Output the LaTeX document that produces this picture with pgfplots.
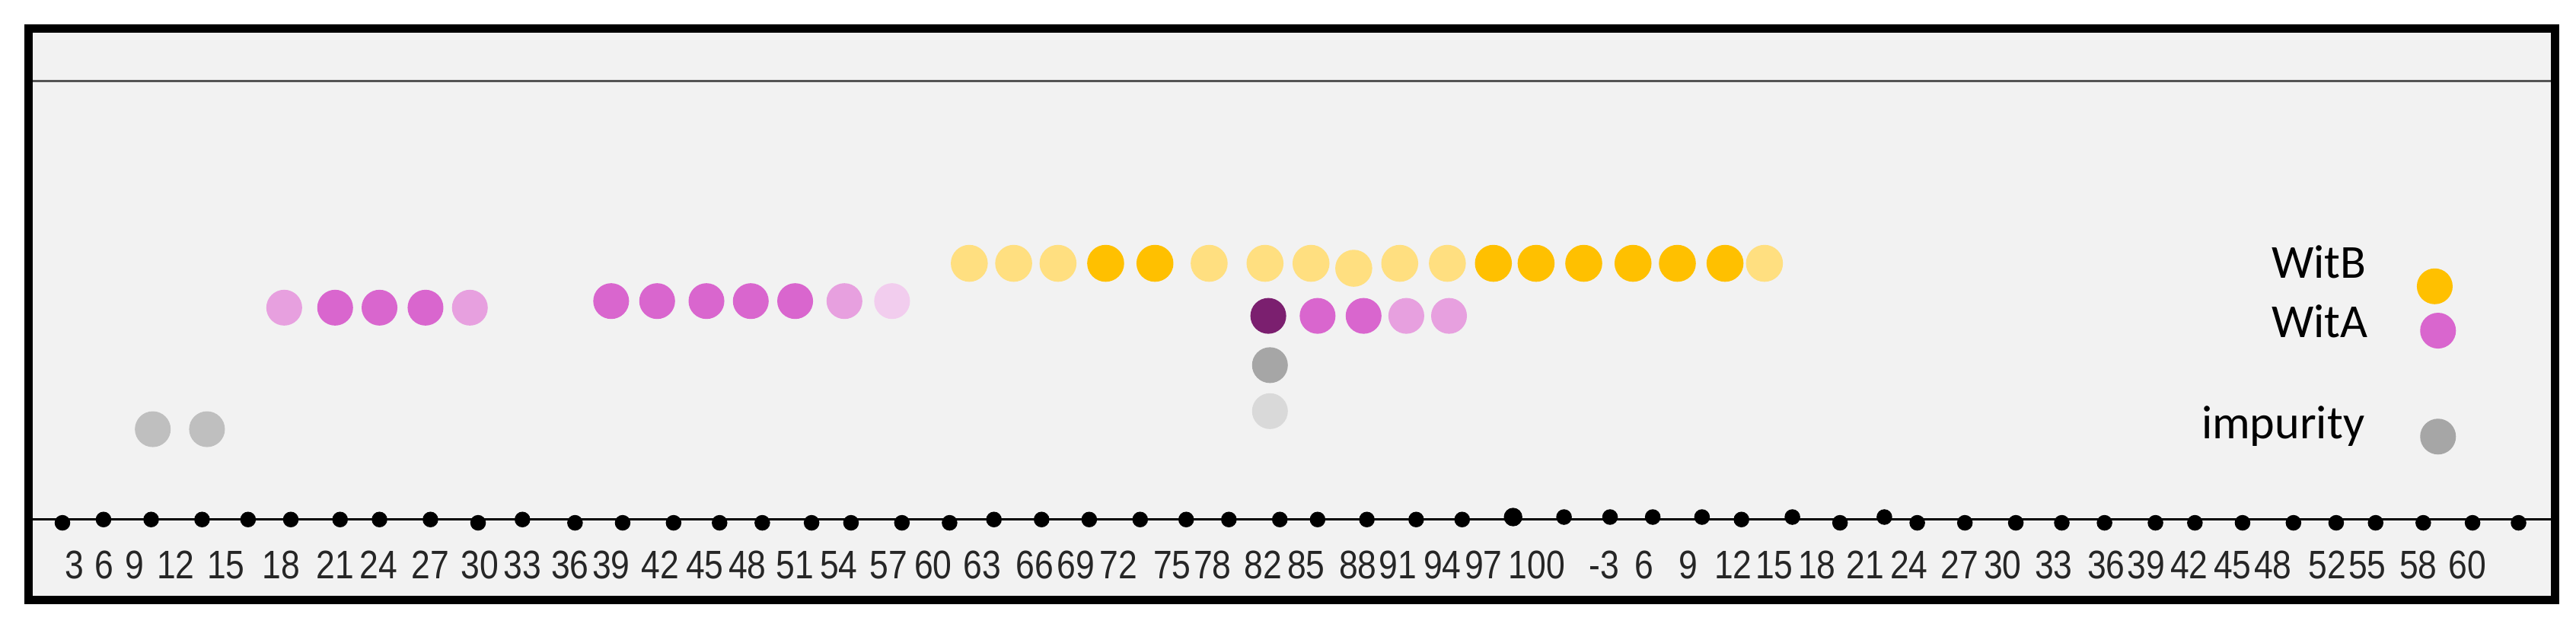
\documentclass[border=0pt]{standalone}
\usepackage{fontspec}
\setmainfont{Carlito}
\newfontfamily\tickfont[FakeStretch=0.85]{Liberation Sans}
\usepackage{pgfplots}
\pgfplotsset{compat=1.18}

\definecolor{panel}{HTML}{F2F2F2}
\definecolor{rule}{HTML}{555555}
\definecolor{labtxt}{HTML}{262626}
\definecolor{witbdark}{HTML}{FFC000}
\definecolor{witblight}{HTML}{FFDF80}
\definecolor{witamid}{HTML}{D966CE}
\definecolor{witalight}{HTML}{E7A0DF}
\definecolor{witapale}{HTML}{F2CDEE}
\definecolor{witadeep}{HTML}{7B1F6F}
\definecolor{impgray}{HTML}{A6A6A6}
\definecolor{implight}{HTML}{D9D9D9}
\definecolor{impmid}{HTML}{BFBFBF}

\begin{document}
\begin{tikzpicture}
\begin{axis}[
  scale only axis, width=15.68cm, height=3.81cm,
  xmin=0, xmax=1568, ymin=0, ymax=381,
  axis on top,
  axis line style={draw=none}, major tick length=0pt,
  ytick=\empty,
  xtick={45.5,63.5,82,107,137.5,171,204,230.5,262,292,318,347,372,402,429,455,484,510.5,541,568,598,630,655,681,713.5,738,769,795,826.5,851,878,903,935.5,976.5,1001,1027.5,1055,1080,1106,1135.5,1162,1193,1219,1250,1282,1306.5,1332.5,1359,1383.5,1416.5,1441,1472,1502},
  xticklabels={3,6,9,12,15,18,21,24,27,30,33,36,39,42,45,48,51,54,57,60,63,66,69,72,75,78,82,85,88,91,94,97,100,-3,6,9,12,15,18,21,24,27,30,33,36,39,42,45,48,52,55,58,60},
  xticklabel style={anchor=base, yshift=8.3pt, inner sep=0pt,
    font=\tickfont\fontsize{6.9}{8}\selectfont, text=labtxt},
  clip=false,
]
% frame and rules
\fill[white] (0,0) rectangle (1568,381);
\fill[panel] (17.4,16.2) rectangle (1555,364);
\draw[rule, line width=0.4pt] (17.4,332) -- (1555,332);
\draw[black, line width=0.45pt] (17.4,65) -- (1555,65);

% tick dots on the base line
\addplot[only marks, mark=*, mark size=1.15pt, black] coordinates {
  (63,65) (92,65) (123,65) (151,65) (177,65) (207,65) (231,65) (262,65) (318,65)
  (605,65) (634,65) (663,65) (694,65) (722,65) (748,65) (779,65) (802,65) (832,65)
  (862,65) (890,65) (1060,65)};
\addplot[only marks, mark=*, mark size=1.15pt, black] coordinates {
  (38,63) (291,63) (350,63) (379,63) (410,63) (438,63) (464,63) (494,63) (518,63)
  (549,63) (578,63) (1120,63) (1167,63) (1196,63) (1227,63) (1255,63) (1281,63)
  (1312,63) (1336,63) (1365,63) (1396,63) (1422,63) (1446,63) (1475,63) (1505,63) (1533,63)};
\addplot[only marks, mark=*, mark size=1.15pt, black] coordinates {
  (952,66.5) (980,66.5) (1006,66.5) (1036,66.5) (1091,66.5) (1147,66.5)};
\addplot[only marks, mark=*, mark size=1.4pt, black] coordinates {(921,66.5)};

% WitB
\addplot[only marks, mark=*, mark size=3pt, witblight] coordinates {
  (590,221) (617,221) (644,221) (736,221) (770,221) (798,221) (824,218)
  (852,221) (881,221) (1074,221)};
\addplot[only marks, mark=*, mark size=3pt, witbdark] coordinates {
  (673,221) (703,221) (909,221) (935,221) (964,221) (994,221) (1021,221) (1050,221)};

% WitA
\addplot[only marks, mark=*, mark size=2.9pt, witamid] coordinates {
  (204,194) (231,194) (259,194)
  (372,198) (400,198) (430,198) (457,198) (484,198)
  (802,189) (830,189)};
\addplot[only marks, mark=*, mark size=2.9pt, witalight] coordinates {
  (173,194) (286,194) (514,198) (856,189) (882,189)};
\addplot[only marks, mark=*, mark size=2.9pt, witapale] coordinates {(543,198)};
\addplot[only marks, mark=*, mark size=2.9pt, witadeep] coordinates {(772,189)};

% impurity
\addplot[only marks, mark=*, mark size=2.9pt, impmid] coordinates {(93,120) (126,120)};
\addplot[only marks, mark=*, mark size=2.9pt, impgray] coordinates {(773,159)};
\addplot[only marks, mark=*, mark size=2.9pt, implight] coordinates {(773,131)};

% key
\addplot[only marks, mark=*, mark size=2.9pt, witbdark] coordinates {(1482,207)};
\addplot[only marks, mark=*, mark size=2.9pt, witamid] coordinates {(1484,180)};
\addplot[only marks, mark=*, mark size=2.9pt, impgray] coordinates {(1484,115.5)};
\node[anchor=base east, inner sep=0pt, font=\fontsize{8.2}{9}\selectfont, text=black] at (1441,212) {WitB};
\node[anchor=base east, inner sep=0pt, font=\fontsize{8.2}{9}\selectfont, text=black] at (1442,176) {WitA};
\node[anchor=base east, inner sep=0pt, font=\fontsize{8.2}{9}\selectfont, text=black] at (1440,114) {impurity};

\draw[black, line width=1.45pt] (17.4,16.2) rectangle (1555,364);
\end{axis}
\end{tikzpicture}
\end{document}
